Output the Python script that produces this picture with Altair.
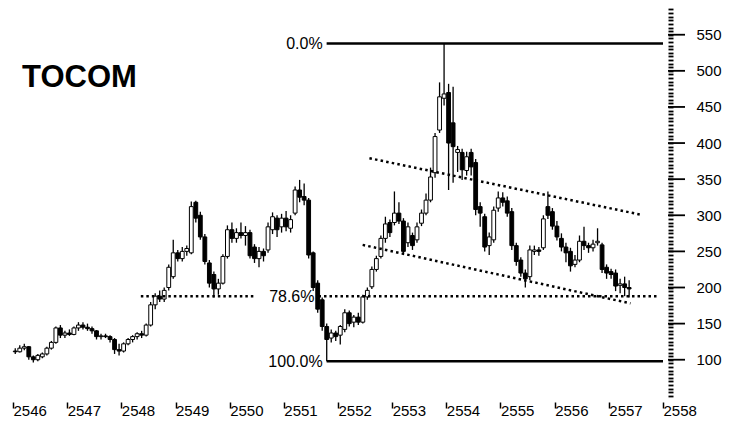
import altair as alt
import pandas as pd

# ---- monthly candles, Thai (Buddhist) years, starting 2546 ----
YEAR_START = 2546
OPEN = [112, 111, 116, 118, 104, 100, 104, 108, 116, 124, 144, 134,
        137, 135, 144, 148, 145, 143, 140, 132, 133, 132, 128, 114,
        112, 122, 128, 132, 136, 134, 148, 176, 188, 184, 200, 215,
        248, 240, 250, 248, 318, 300, 270, 234, 218, 198, 206, 243,
        280, 268, 276, 272, 276, 256, 240, 250, 252, 280, 296, 284,
        296, 282, 303, 335, 326, 321, 248, 206, 183, 146, 130, 137,
        134, 142, 165, 152, 159, 152, 187, 201, 225, 243, 268, 290,
        290, 303, 292, 262, 272, 266, 289, 303, 321, 359, 418, 462,
        470, 428, 387, 387, 362, 387, 373, 312, 298, 258, 266, 310,
        324, 320, 305, 258, 238, 220, 215, 250, 252, 255, 312, 305,
        285, 268, 256, 250, 232, 238, 264, 258, 255, 262, 259, 228,
        222, 220, 203, 205, 200]
HIGH = [116, 120, 122, 119, 106, 108, 110, 118, 126, 146, 148, 140,
        142, 146, 152, 152, 150, 146, 141, 136, 136, 134, 130, 122,
        124, 130, 134, 138, 140, 150, 180, 192, 196, 200, 232, 266,
        252, 256, 258, 319, 320, 305, 274, 238, 222, 212, 246, 286,
        290, 282, 290, 285, 280, 260, 256, 254, 290, 304, 300, 302,
        306, 300, 340, 349, 344, 324, 250, 210, 186, 150, 142, 140,
        148, 170, 168, 162, 165, 190, 200, 229, 244, 272, 298, 294,
        333, 318, 296, 290, 276, 290, 308, 330, 366, 414, 484, 538,
        482, 478, 396, 392, 388, 392, 378, 318, 302, 276, 312, 333,
        332, 326, 310, 262, 242, 225, 258, 258, 256, 300, 333, 310,
        292, 275, 262, 255, 245, 272, 284, 262, 266, 282, 262, 232,
        226, 225, 212, 215, 210]
LOW = [108, 110, 113, 100, 96, 98, 102, 106, 114, 122, 130, 130,
       133, 134, 140, 142, 140, 136, 128, 128, 130, 124, 108, 106,
       110, 120, 124, 128, 130, 132, 146, 170, 180, 180, 196, 212,
       236, 236, 244, 246, 290, 266, 232, 200, 186, 190, 204, 240,
       262, 262, 268, 258, 240, 234, 228, 236, 248, 274, 270, 276,
       278, 276, 300, 318, 314, 240, 195, 165, 140, 98, 124, 126,
       121, 138, 146, 145, 148, 150, 183, 198, 222, 240, 262, 270,
       286, 288, 245, 256, 252, 262, 285, 300, 318, 352, 414, 452,
       335, 345, 360, 349, 355, 355, 300, 284, 250, 245, 262, 305,
       312, 298, 252, 230, 215, 200, 210, 245, 244, 252, 295, 280,
       265, 250, 235, 222, 228, 235, 252, 248, 250, 258, 220, 212,
       212, 195, 192, 188, 186]
CLOSE = [111, 116, 118, 104, 100, 106, 108, 116, 124, 144, 134, 137,
         135, 144, 148, 145, 143, 140, 132, 133, 132, 128, 114, 112,
         122, 128, 132, 136, 134, 148, 176, 188, 184, 196, 228, 248,
         240, 250, 254, 312, 296, 270, 236, 206, 198, 206, 243, 280,
         268, 276, 272, 276, 244, 240, 250, 244, 284, 298, 280, 296,
         284, 294, 335, 325, 321, 245, 200, 170, 146, 128, 137, 132,
         146, 165, 150, 159, 152, 187, 196, 225, 240, 268, 288, 276,
         303, 292, 250, 284, 258, 284, 303, 321, 353, 409, 464, 468,
         400, 395, 391, 363, 381, 367, 308, 303, 256, 270, 307, 324,
         318, 303, 258, 236, 220, 212, 252, 252, 250, 295, 300, 285,
         270, 256, 248, 230, 238, 264, 258, 255, 260, 264, 225, 220,
         218, 202, 205, 200, 198]

# ---- axes ----
year_ticks = list(range(2546, 2559))
price_minor_ticks = list(range(50, 590, 5))
price_major_ticks = list(range(100, 551, 50))

# ---- Fibonacci retracement ----
fib_labels = ["0.0%", "78.6%", "100.0%"]
fib_levels = [538, 188, 98]
fib_label_t = [2551.79, 2551.64, 2551.79]

solid_t1 = [2551.79, 2551.79]
solid_t2 = [2558.0, 2558.0]
solid_level = [538, 98]

dotted_t1 = [2548.36, 2551.64]
dotted_t2 = [2550.45, 2557.9]
dotted_level = [188, 188]

# ---- channel (trend) lines ----
trend_t1 = [2552.58, 2552.455]
trend_p1 = [379, 259]
trend_t2 = [2557.58, 2557.40]
trend_p2 = [301, 178]

FONT = "Liberation Sans"

candles = pd.DataFrame({
    "t": [YEAR_START + (i + 0.5) / 12 for i in range(len(CLOSE))],
    "open": OPEN, "high": HIGH, "low": LOW, "close": CLOSE,
})

x_scale = alt.Scale(domain=[2546, 2558], nice=False, zero=False)
y_scale = alt.Scale(domain=[47, 587], nice=False, zero=False)

x_axis = alt.Axis(values=year_ticks, format="d", title=None, grid=False, domain=False,
                  tickSize=6, tickWidth=1.5, tickColor="black", offset=4,
                  labelAlign="left", labelBaseline="top", labelPadding=-5,
                  labelFlush=False, labelOverlap=False, labelFont=FONT,
                  labelFontSize=15, labelColor="black")
y_axis = alt.Axis(orient="right", values=price_minor_ticks, title=None, grid=False,
                  domain=False, tickSize=5, tickWidth=1.8, tickColor="black",
                  labelExpr="(datum.value % 50 === 0 && datum.value >= 100 && datum.value <= 550) ? datum.label : ''",
                  labelPadding=23, labelOverlap=False, labelFont=FONT,
                  labelFontSize=15, labelColor="black")


def X(field):
    return alt.X(field, scale=x_scale, axis=x_axis)


def Y(field):
    return alt.Y(field, scale=y_scale, axis=y_axis)


wicks = alt.Chart(candles).mark_rule(color="black", strokeWidth=1.3).encode(
    x=X("t:Q"), y=Y("low:Q"), y2="high:Q",
)

bodies = alt.Chart(candles).mark_bar(size=3.8, stroke="black", strokeWidth=1).encode(
    x=X("t:Q"), y=Y("open:Q"), y2="close:Q",
    fill=alt.condition("datum.close >= datum.open", alt.value("white"), alt.value("black")),
)

major = alt.Chart(pd.DataFrame({"p": price_major_ticks})).mark_rule(
    color="black", strokeWidth=1.8).encode(
    y=Y("p:Q"), x=alt.value(660), x2=alt.value(677),
)

solid = alt.Chart(pd.DataFrame({"t1": solid_t1, "t2": solid_t2, "lv": solid_level})).mark_rule(
    color="black", strokeWidth=2.5).encode(
    x=X("t1:Q"), x2="t2:Q", y=Y("lv:Q"),
)

dotted = alt.Chart(pd.DataFrame({"t1": dotted_t1, "t2": dotted_t2, "lv": dotted_level})).mark_rule(
    color="black", strokeWidth=2.5, strokeDash=[2.5, 3]).encode(
    x=X("t1:Q"), x2="t2:Q", y=Y("lv:Q"),
)

trend = alt.Chart(pd.DataFrame({"t1": trend_t1, "t2": trend_t2, "p1": trend_p1, "p2": trend_p2})).mark_rule(
    color="black", strokeWidth=2.5, strokeDash=[2.5, 3.2]).encode(
    x=X("t1:Q"), x2="t2:Q", y=Y("p1:Q"), y2="p2:Q",
)

fib_df = pd.DataFrame({"t": fib_label_t, "lv": fib_levels, "label": fib_labels})
fib_text = alt.Chart(fib_df).mark_text(
    align="right", baseline="middle", dx=-4, dy=1, fontSize=16, font=FONT, color="black").encode(
    x=X("t:Q"), y=Y("lv:Q"), text="label:N",
)

title = alt.Chart(pd.DataFrame({"name": ["TOCOM"]})).mark_text(
    align="left", baseline="alphabetic", fontSize=31, fontWeight="bold", font=FONT,
    color="black").encode(
    x=alt.value(14), y=alt.value(79), text="name:N",
)

chart = alt.layer(wicks, bodies, solid, dotted, trend, major, fib_text, title).properties(
    width=660, height=390, background="white",
    autosize=alt.AutoSizeParams(type="none"),
    padding={"left": 0, "top": 0, "right": 54, "bottom": 20},
).configure_view(stroke=None)

chart.save("out.html", embed_options={"renderer": "svg", "actions": False})
